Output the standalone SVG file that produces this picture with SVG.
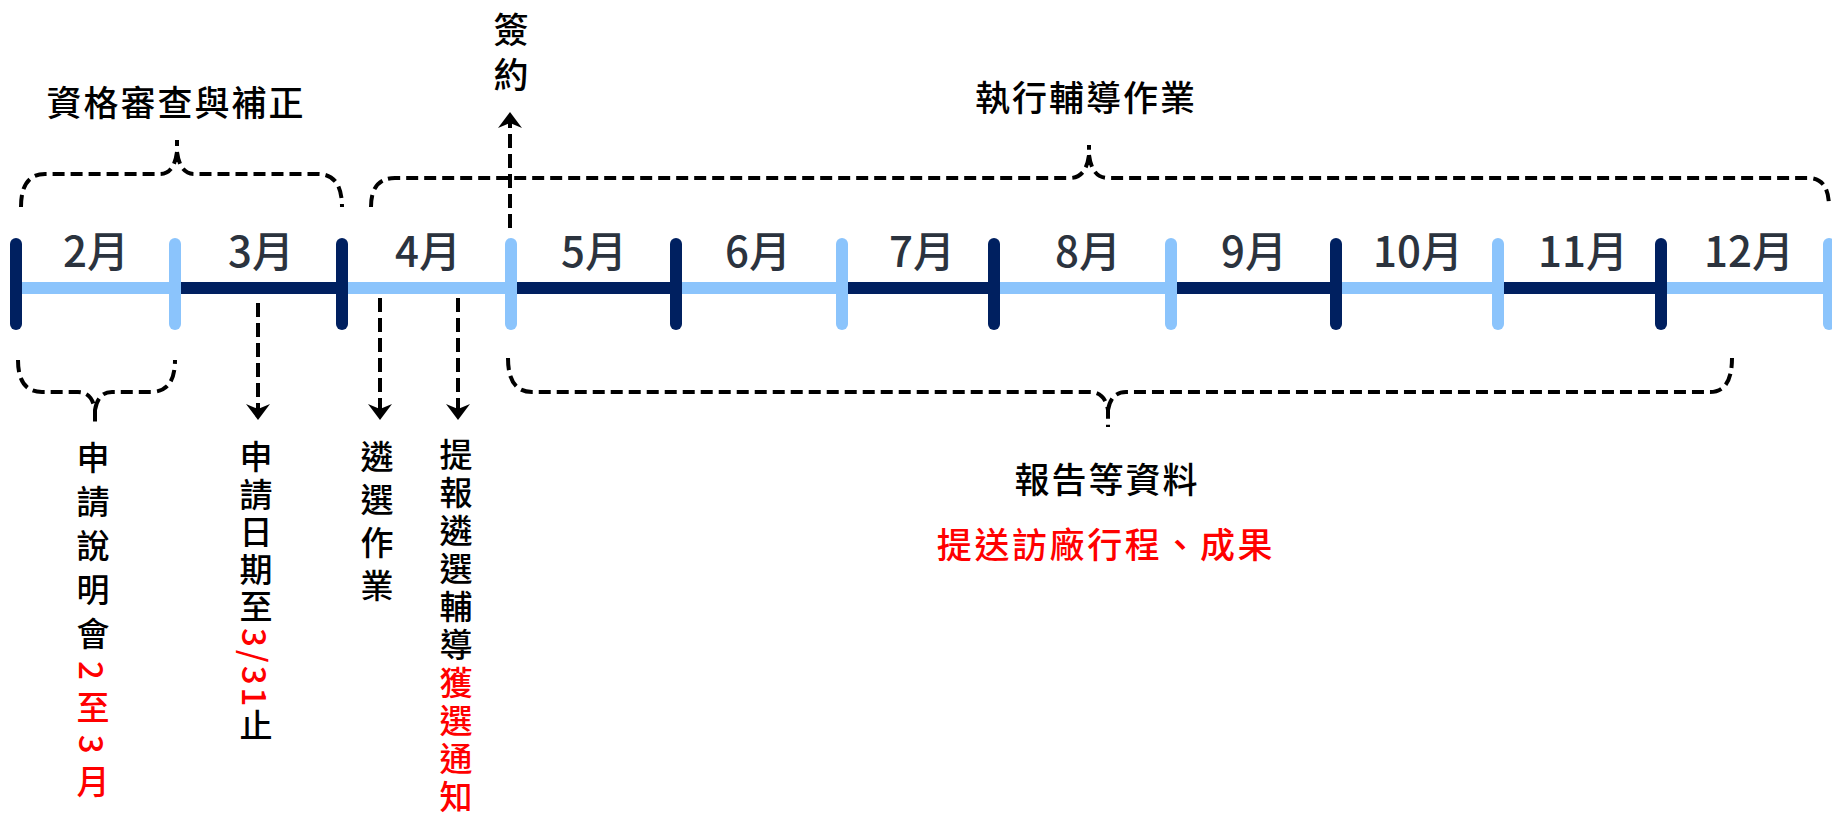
<svg xmlns="http://www.w3.org/2000/svg" width="1832" height="818" viewBox="0 0 1832 818">
<style>
.seg{stroke-width:12;fill:none}
.lt{stroke:#8BC4FC}
.dk{stroke:#002060}
.tick{stroke-width:12;stroke-linecap:round}
.mon{font-family:"Noto Sans CJK TC","Noto Sans",sans-serif;font-size:42px;font-weight:500;fill:#2B333E;text-anchor:middle;dominant-baseline:central}
.lbl{font-family:"Noto Sans CJK TC","Noto Sans",sans-serif;font-size:35px;font-weight:500;fill:#000;text-anchor:middle;dominant-baseline:central;letter-spacing:2px}
.red{fill:#FF0000}
.vt{font-family:"Noto Sans CJK TC","Noto Sans",sans-serif;font-size:33px;font-weight:500;fill:#000;writing-mode:vertical-rl}
.brace{fill:none;stroke:#000;stroke-width:4;stroke-dasharray:12 6}
.arr{fill:none;stroke:#000;stroke-width:4;stroke-dasharray:14 6}
</style>
<defs>
<marker id="ah" viewBox="-1 -13 18 26" refX="5" refY="0" markerWidth="18" markerHeight="26" markerUnits="userSpaceOnUse" orient="auto">
<path d="M0,-12 L16,0 L0,12 L5,0 Z" fill="#000"/>
</marker>
</defs>

<g id="timeline">
<line class="seg lt" x1="16" y1="288" x2="175" y2="288"/>
<line class="seg dk" x1="175" y1="288" x2="342" y2="288"/>
<line class="seg lt" x1="342" y1="288" x2="511" y2="288"/>
<line class="seg dk" x1="511" y1="288" x2="676" y2="288"/>
<line class="seg lt" x1="676" y1="288" x2="842" y2="288"/>
<line class="seg dk" x1="842" y1="288" x2="994" y2="288"/>
<line class="seg lt" x1="994" y1="288" x2="1171" y2="288"/>
<line class="seg dk" x1="1171" y1="288" x2="1336" y2="288"/>
<line class="seg lt" x1="1336" y1="288" x2="1498" y2="288"/>
<line class="seg dk" x1="1498" y1="288" x2="1661" y2="288"/>
<line class="seg lt" x1="1661" y1="288" x2="1832" y2="288"/>
<line class="tick dk" x1="16" y1="244" x2="16" y2="324"/>
<line class="tick lt" x1="175" y1="244" x2="175" y2="324"/>
<line class="tick dk" x1="342" y1="244" x2="342" y2="324"/>
<line class="tick lt" x1="511" y1="244" x2="511" y2="324"/>
<line class="tick dk" x1="676" y1="244" x2="676" y2="324"/>
<line class="tick lt" x1="842" y1="244" x2="842" y2="324"/>
<line class="tick dk" x1="994" y1="244" x2="994" y2="324"/>
<line class="tick lt" x1="1171" y1="244" x2="1171" y2="324"/>
<line class="tick dk" x1="1336" y1="244" x2="1336" y2="324"/>
<line class="tick lt" x1="1498" y1="244" x2="1498" y2="324"/>
<line class="tick dk" x1="1661" y1="244" x2="1661" y2="324"/>
<line class="tick lt" x1="1829" y1="244" x2="1829" y2="324"/>
</g>

<g id="m2"><text class="mon" x="96" y="248">2月</text></g>
<g id="m3"><text class="mon" x="261" y="248">3月</text></g>
<g id="m4"><text class="mon" x="428" y="248">4月</text></g>
<g id="m5"><text class="mon" x="594" y="248">5月</text></g>
<g id="m6"><text class="mon" x="758" y="248">6月</text></g>
<g id="m7"><text class="mon" x="922" y="248">7月</text></g>
<g id="m8"><text class="mon" x="1088" y="248">8月</text></g>
<g id="m9"><text class="mon" x="1254" y="248">9月</text></g>
<g id="m10"><text class="mon" x="1418" y="248">10月</text></g>
<g id="m11"><text class="mon" x="1583" y="248">11月</text></g>
<g id="m12"><text class="mon" x="1749" y="248">12月</text></g>

<g id="connectors">
<path class="brace" d="M21,207 Q21,174 45,174 L160,174 Q174,174 177,152 L177,140 M177,152 Q180,174 194,174 L318,174 Q342,174 342,207"/>
<path class="brace" d="M371,207 Q371,178 395,178 L1070,178 Q1086,178 1089,155 L1089,145 M1089,155 Q1092,178 1108,178 L1808,178 Q1829,178 1829,207"/>
<path class="brace" d="M18,360 Q18,392 42,392 L78,392 Q92,392 95,410 L95,425 M95,410 Q98,392 112,392 L151,392 Q175,392 175,360"/>
<path class="brace" d="M508,358 Q508,392 532,392 L1090,392 Q1105,392 1108,410 L1108,427 M1108,410 Q1111,392 1126,392 L1710,392 Q1732,392 1732,358"/>
<line class="arr" x1="258" y1="303" x2="258" y2="409" marker-end="url(#ah)"/>
<line class="arr" x1="380" y1="298" x2="380" y2="409" marker-end="url(#ah)"/>
<line class="arr" x1="458" y1="298" x2="458" y2="409" marker-end="url(#ah)"/>
<line class="arr" x1="510" y1="228" x2="510" y2="123" marker-end="url(#ah)"/>
</g>

<g id="label-review"><text class="lbl" x="176" y="100">資格審查與補正</text></g>
<g id="label-exec"><text class="lbl" x="1086" y="95">執行輔導作業</text></g>
<g id="label-report"><text class="lbl" x="1107" y="477">報告等資料</text></g>
<g id="label-visit"><text class="lbl red" x="1106" y="542" style="letter-spacing:2.6px">提送訪廠行程、成果</text></g>
<g id="label-sign"><text class="vt" x="511" y="12" style="font-size:35px;letter-spacing:10px">簽約</text></g>

<g id="v-briefing"><text class="vt" x="93" y="441" style="letter-spacing:11px">申請說明會<tspan class="red">2至3月</tspan></text></g>
<g id="v-deadline"><text class="vt" x="256" y="440" style="letter-spacing:4.5px">申請日期至<tspan class="red" style="letter-spacing:3px">3/31</tspan>止</text></g>
<g id="v-select"><text class="vt" x="377" y="440" style="letter-spacing:10px">遴選作業</text></g>
<g id="v-notify"><text class="vt" x="456" y="438" style="letter-spacing:5px">提報遴選輔導<tspan class="red">獲選通知</tspan></text></g>
</svg>
